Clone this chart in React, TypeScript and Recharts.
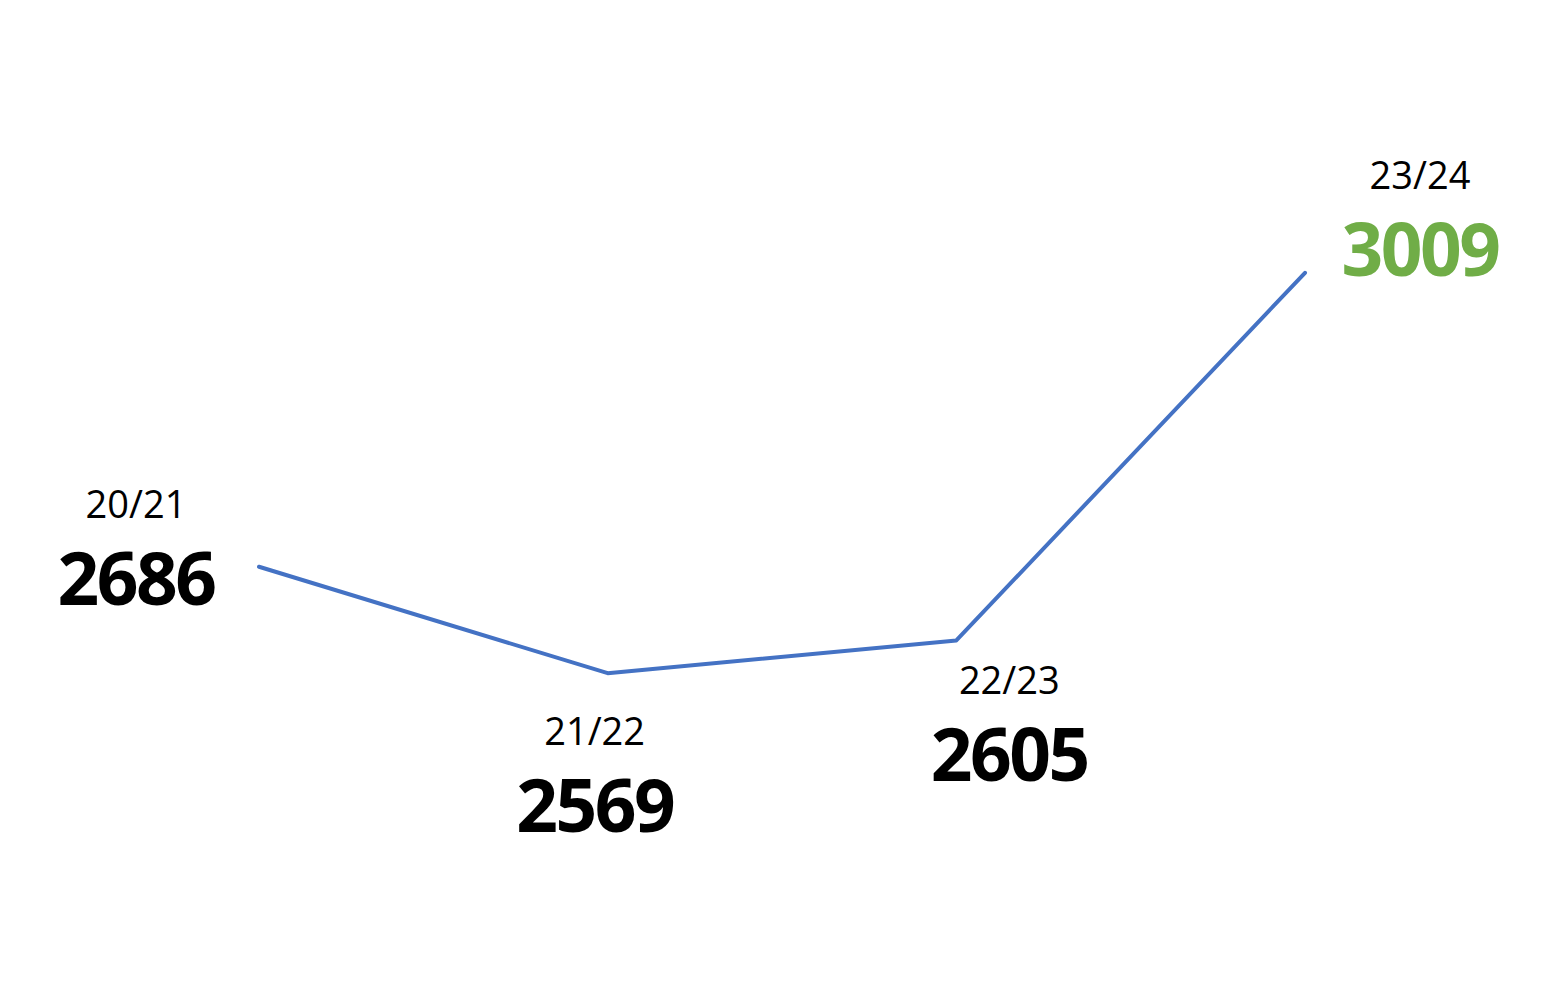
import { LineChart, Line, XAxis, YAxis } from 'recharts';

document.body.style.margin = '0';

const seasons = ['20/21', '21/22', '22/23', '23/24'];
const totals = [2686, 2569, 2605, 3009];

const chartData = seasons.map((season, i) => ({ season, total: totals[i] }));

// where each season/total pair sits relative to its point
const labelPlacement = [
  { dx: -123, dy: -49 },
  { dx: -13, dy: 72 },
  { dx: 53, dy: 54 },
  { dx: 115, dy: -84 },
];

const FONT = '"Open Sans", "Noto Sans", sans-serif';

function PointLabel(props: { x?: number; y?: number; index?: number }) {
  const { x = 0, y = 0, index = 0 } = props;
  const p = labelPlacement[index];
  const last = index === chartData.length - 1;
  return (
    <g>
      <text
        x={x + p.dx}
        y={y + p.dy}
        textAnchor="middle"
        fontFamily={FONT}
        fontSize={38}
        fill="#000"
      >
        {chartData[index].season}
      </text>
      <text
        x={x + p.dx}
        y={y + p.dy + 87}
        textAnchor="middle"
        fontFamily={FONT}
        fontSize={73}
        fontWeight={700}
        letterSpacing={-2.5}
        fill={last ? '#70AD47' : '#000'}
      >
        {chartData[index].total}
      </text>
    </g>
  );
}

export default function App() {
  return (
    <div style={{ width: 1546, height: 1000, background: '#fff' }}>
      <LineChart
        width={1546}
        height={1000}
        data={chartData}
        margin={{ top: 190, right: 241, bottom: 173, left: 259 }}
      >
        <XAxis dataKey="season" hide />
        <YAxis domain={[2400, 3100]} hide />
        <Line
          type="linear"
          dataKey="total"
          stroke="#4472C4"
          strokeWidth={4}
          strokeLinecap="round"
          strokeLinejoin="round"
          dot={false}
          activeDot={false}
          label={<PointLabel />}
          isAnimationActive={false}
        />
      </LineChart>
    </div>
  );
}
